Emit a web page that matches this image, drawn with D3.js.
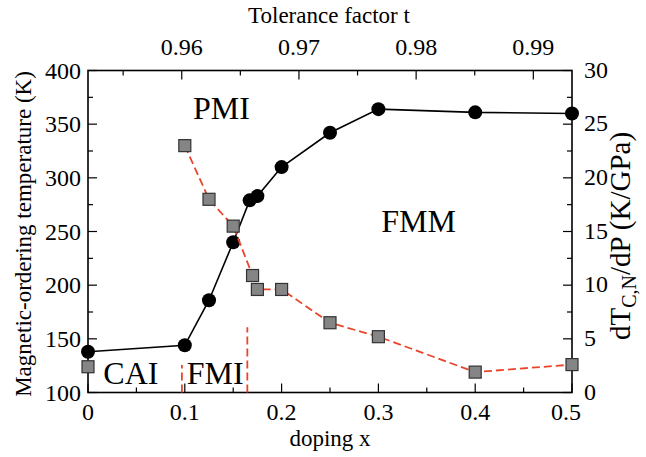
<!DOCTYPE html>
<html>
<head>
<meta charset="utf-8">
<script src="https://cdn.jsdelivr.net/npm/d3@7/dist/d3.min.js"></script>
<style>
  body { margin: 0; background: #fff; }
  svg { display: block; }
  text { font-family: "Liberation Serif", "DejaVu Serif", serif; fill: #000; }
</style>
</head>
<body>
<svg id="chart" width="646" height="457" font-family="Liberation Serif, serif"></svg>
<script>
// ---- data ----
const dopingT = [0, 0.1, 0.125, 0.15, 0.167, 0.175, 0.2, 0.25, 0.3, 0.4, 0.5];
const orderingT = [138, 144, 186, 240, 279, 283, 310, 342, 364, 361, 360];

const dopingD = [0, 0.1, 0.125, 0.15, 0.17, 0.175, 0.2, 0.25, 0.3, 0.4, 0.5];
const dTdP = [2.4, 23, 18, 15.5, 10.9, 9.6, 9.6, 6.5, 5.2, 1.9, 2.6];

const xTicks = [0, 0.1, 0.2, 0.3, 0.4, 0.5];
const xTickLabels = ["0", "0.1", "0.2", "0.3", "0.4", "0.5"];
const leftTicks = [100, 150, 200, 250, 300, 350, 400];
const rightTicks = [0, 5, 10, 15, 20, 25, 30];
const topTicks = [0.96, 0.97, 0.98, 0.99];
const topTickLabels = ["0.96", "0.97", "0.98", "0.99"];

const phaseBoundaryX = [0.097, 0.1646];
const phaseBoundaryTop = [125.6, 160.7];

const regionNames = ["PMI", "FMM", "CAI", "FMI"];
const regionX = [0.1085, 0.303, 0.0158, 0.102];
const regionT = [355, 250, 107.5, 107.5];

// ---- layout ----
const svg = d3.select("#chart");
const L = 88, R = 572, T = 70.5, B = 392.5;

const x = d3.scaleLinear().domain([0, 0.5]).range([L, R]);
const tol = d3.scaleLinear().domain([0.952, 0.9933]).range([L, R]);
const yL = d3.scaleLinear().domain([100, 400]).range([B, T]);
const yR = d3.scaleLinear().domain([0, 30]).range([B, T]);

const red = "#e8452c";
const fs = 24;   // tick labels
const ft = 23;   // axis titles

// frame
svg.append("rect").attr("x", L).attr("y", T).attr("width", R - L).attr("height", B - T)
  .attr("fill", "none").attr("stroke", "#000").attr("stroke-width", 1.6);

// bottom axis
const bottomMinor = d3.range(0.05, 0.5, 0.1);
svg.append("g").selectAll("line").data(xTicks.concat(bottomMinor)).join("line")
  .attr("x1", d => x(d)).attr("x2", d => x(d))
  .attr("y1", B).attr("y2", (d, i) => B - (i < xTicks.length ? 9 : 5))
  .attr("stroke", "#000").attr("stroke-width", 1.2);
svg.append("g").selectAll("text").data(xTicks).join("text")
  .attr("x", (d, i) => x(d) - (i === xTicks.length - 1 ? 6 : 0)).attr("y", B + 27)
  .attr("text-anchor", "middle").attr("font-size", fs)
  .text((d, i) => xTickLabels[i]);

// top axis
const topMinor = [0.955, 0.965, 0.975, 0.985];
svg.append("g").selectAll("line").data(topTicks.concat(topMinor)).join("line")
  .attr("x1", d => tol(d)).attr("x2", d => tol(d))
  .attr("y1", T).attr("y2", (d, i) => T + (i < topTicks.length ? 9 : 5))
  .attr("stroke", "#000").attr("stroke-width", 1.2);
svg.append("g").selectAll("text").data(topTicks).join("text")
  .attr("x", d => tol(d)).attr("y", T - 16)
  .attr("text-anchor", "middle").attr("font-size", fs)
  .text((d, i) => topTickLabels[i]);

// left axis
const leftMinor = d3.range(125, 400, 50);
svg.append("g").selectAll("line").data(leftTicks.concat(leftMinor)).join("line")
  .attr("y1", d => yL(d)).attr("y2", d => yL(d))
  .attr("x1", L).attr("x2", (d, i) => L + (i < leftTicks.length ? 9 : 5))
  .attr("stroke", "#000").attr("stroke-width", 1.2);
svg.append("g").selectAll("text").data(leftTicks).join("text")
  .attr("x", L - 7).attr("y", d => yL(d) + 8)
  .attr("text-anchor", "end").attr("font-size", fs)
  .text(d => d);

// right axis
const rightMinor = d3.range(2.5, 30, 5);
svg.append("g").selectAll("line").data(rightTicks.concat(rightMinor)).join("line")
  .attr("y1", d => yR(d)).attr("y2", d => yR(d))
  .attr("x1", R).attr("x2", (d, i) => R - (i < rightTicks.length ? 9 : 5))
  .attr("stroke", "#000").attr("stroke-width", 1.2);
svg.append("g").selectAll("text").data(rightTicks).join("text")
  .attr("x", R + 12).attr("y", d => yR(d) + 7)
  .attr("text-anchor", "start").attr("font-size", fs)
  .text(d => d);

// axis titles
svg.append("text").attr("x", 329).attr("y", 23).attr("text-anchor", "middle")
  .attr("font-size", ft).text("Tolerance factor t");
svg.append("text").attr("x", 330).attr("y", 446).attr("text-anchor", "middle")
  .attr("font-size", ft).text("doping x");
svg.append("text").attr("transform", "translate(31,234) rotate(-90)")
  .attr("text-anchor", "middle").attr("font-size", ft)
  .text("Magnetic-ordering temperature (K)");
const rl = svg.append("text").attr("transform", "translate(630,236) rotate(-90)")
  .attr("text-anchor", "middle").attr("font-size", 29);
rl.append("tspan").text("dT");
rl.append("tspan").attr("font-size", 20).attr("dy", 6).text("C,N");
rl.append("tspan").attr("dy", -6).text("/dP (K/GPa)");

// phase boundaries
svg.append("g").selectAll("line").data(phaseBoundaryX).join("line")
  .attr("x1", d => x(d)).attr("x2", d => x(d))
  .attr("y1", yL(100)).attr("y2", (d, i) => yL(phaseBoundaryTop[i]))
  .attr("stroke", red).attr("stroke-width", 1.8).attr("stroke-dasharray", "8,4");

// region labels
svg.append("g").selectAll("text").data(regionNames).join("text")
  .attr("x", (d, i) => x(regionX[i])).attr("y", (d, i) => yL(regionT[i]))
  .attr("font-size", 32).text(d => d);

// T line + circles
const tPts = dopingT.map((d, i) => [d, orderingT[i]]);
svg.append("path").datum(tPts)
  .attr("d", d3.line().x(d => x(d[0])).y(d => yL(d[1])))
  .attr("fill", "none").attr("stroke", "#000").attr("stroke-width", 1.6);
svg.append("g").selectAll("circle").data(tPts).join("circle")
  .attr("cx", d => x(d[0])).attr("cy", d => yL(d[1])).attr("r", 7)
  .attr("fill", "#000");

// dT/dP dashed line + squares
const dPts = dopingD.map((d, i) => [d, dTdP[i]]);
svg.append("path").datum(dPts.filter(d => d[0] >= 0.1))
  .attr("d", d3.line().x(d => x(d[0])).y(d => yR(d[1])))
  .attr("fill", "none").attr("stroke", red).attr("stroke-width", 1.8)
  .attr("stroke-dasharray", "8,4");
const s = 12;
svg.append("g").selectAll("rect").data(dPts).join("rect")
  .attr("x", d => x(d[0]) - s / 2).attr("y", d => yR(d[1]) - s / 2)
  .attr("width", s).attr("height", s)
  .attr("fill", "#858585").attr("stroke", "#333").attr("stroke-width", 1.2);
</script>
</body>
</html>
